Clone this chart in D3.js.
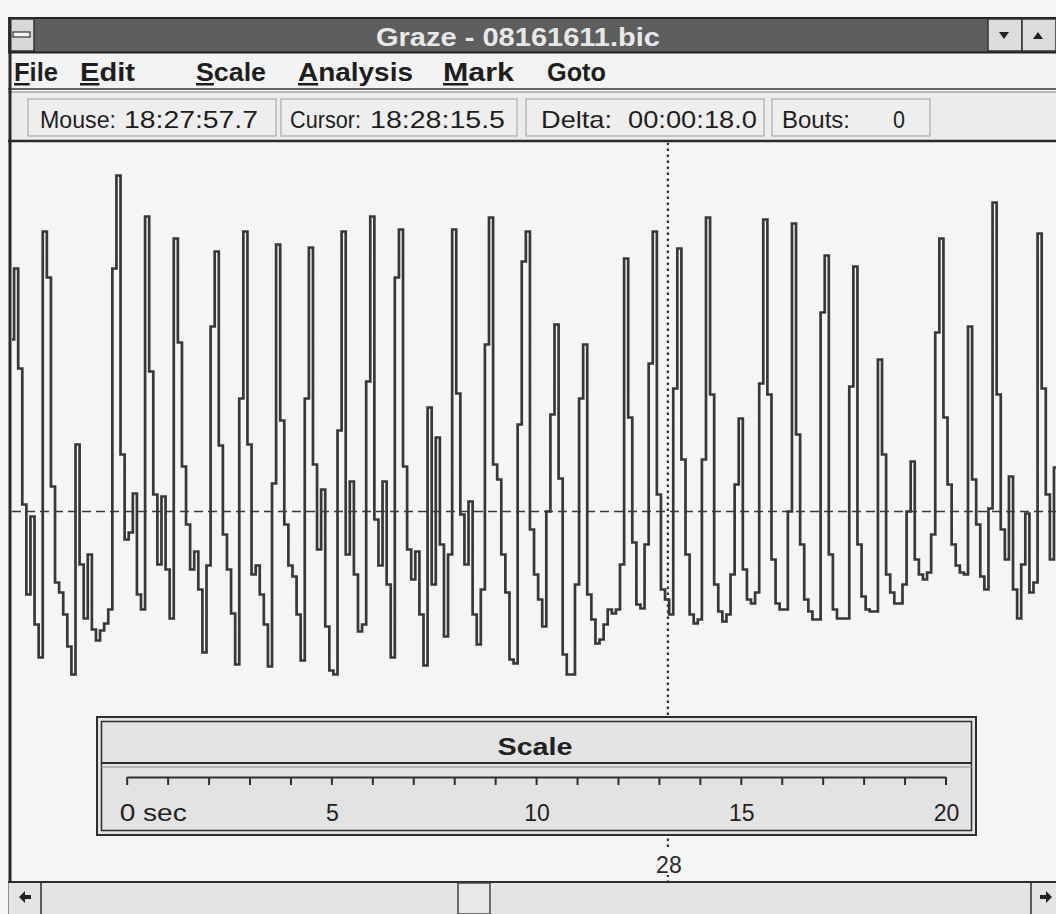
<!DOCTYPE html>
<html><head><meta charset="utf-8">
<script src="https://cdn.jsdelivr.net/npm/d3@7"></script>
<style>
body{margin:0;background:#f4f4f4;overflow:hidden}
svg{display:block}
text{font-family:"Liberation Sans",Arial,sans-serif}
</style></head>
<body><svg id="c" width="1056" height="914"></svg>
<script>
// ---------------- data ----------------
const title = "Graze - 08161611.bic";
const menuItems = ["File", "Edit", "Scale", "Analysis", "Mark", "Goto"];
const statusLabels = ["Mouse:", "Cursor:", "Delta:", "Bouts:"];
const statusValues = ["18:27:57.7", "18:28:15.5", "00:00:18.0", "0"];
const sampleInterval = 0.1;   // seconds per sample (10 Hz)
const threshold = 3;          // dashed reference level
const cursorTime = 16.07;     // s from left edge
const cursorLabel = "28";
const scaleTicks = [0,1,2,3,4,5,6,7,8,9,10,11,12,13,14,15,16,17,18,19,20];
const scaleLabelValues = [0, 5, 10, 15, 20];
const scaleLabelTexts = ["0 sec", "5", "10", "15", "20"];
// jaw-movement signal, one value per 0.1 s
const signal = [
 175,246,146,10,-80,-2,-110,-143,283,237,
 28,-68,-78,-100,-132,-160,70,-50,-104,-40,
 -115,-126,-116,-109,-95,246,339,60,-25,-18,
 21,-80,-95,298,143,20,-50,18,-55,-104,
 276,172,48,-10,-55,-37,-75,-138,-51,188,
 263,69,-20,-55,-99,-150,116,283,70,-60,
 -51,-80,-110,-152,31,270,94,-10,-51,-62,
 -100,-146,116,267,50,-35,25,-112,-156,-160,
 84,283,-40,33,-60,-117,-110,133,298,-5,
 -51,33,-70,-143,237,285,48,-35,-65,-37,
 -100,-151,107,-70,77,-30,-122,-40,285,121,
 0,-50,13,-100,-130,-75,170,297,50,35,
 -40,-78,-145,-149,90,253,283,-15,-60,-85,
 -112,3,100,190,36,-140,-160,-160,-70,116,
 170,-80,-105,-129,-125,-110,-95,-99,-95,-50,
 256,97,-28,-90,-94,-30,151,283,20,-75,
 -85,-100,126,266,55,-40,-100,-109,-105,55,
 297,120,-70,-97,-107,-100,-60,30,96,-55,
 -85,-89,-78,131,295,120,-45,-89,-95,-95,
 3,291,80,-30,-85,-97,-105,-105,202,259,
 -40,-95,-104,-104,-104,128,248,-30,-82,-95,
 -97,-97,155,60,-60,-78,-89,-89,-70,3,
 53,-45,-60,-65,-58,-20,182,276,97,30,
 -30,-51,-58,-60,188,35,-10,-62,-75,6,
 312,120,-15,-45,38,-75,-104,-50,1,-78,
 -68,281,126,20,-45,47,-18
];

// ---------------- layout ----------------
const W = 1056, H = 914;
const svg = d3.select("#c");
const ink = "#383838";
const chrome = "#e3e3e3";

svg.append("rect").attr("width", W).attr("height", H).attr("fill", "#f5f5f5");

// ---- title bar ----
svg.append("rect").attr("x", 8).attr("y", 18).attr("width", W - 8).attr("height", 34).attr("fill", "#5e5e5e");
svg.append("line").attr("x1", 8).attr("x2", W).attr("y1", 18).attr("y2", 18).attr("stroke", "#222").attr("stroke-width", 2);
// system box
svg.append("rect").attr("x", 9).attr("y", 19).attr("width", 25).attr("height", 32).attr("fill", "#d8d8d8").attr("stroke", "#333").attr("stroke-width", 1.5);
svg.append("rect").attr("x", 13).attr("y", 32).attr("width", 17).attr("height", 5).attr("fill", "#f4f4f4").attr("stroke", "#333").attr("stroke-width", 1.2);
svg.append("text").attr("x", 376).attr("y", 46).attr("font-size", 25).attr("font-weight", "bold")
  .attr("fill", "#e8e8e8").attr("textLength", 284).attr("lengthAdjust", "spacingAndGlyphs").text(title);
// min / max buttons
[[988, "down"], [1022, "up"]].forEach(([bx, dir]) => {
  svg.append("rect").attr("x", bx).attr("y", 19).attr("width", 34).attr("height", 32).attr("fill", "#dcdcdc").attr("stroke", "#333").attr("stroke-width", 1.5);
  const cx = bx + 16, cy = 35;
  const pts = dir === "down" ? [[cx - 5, cy - 3], [cx + 5, cy - 3], [cx, cy + 4]] : [[cx - 5, cy + 4], [cx + 5, cy + 4], [cx, cy - 3]];
  svg.append("path").attr("d", d3.line()(pts) + "Z").attr("fill", "#222");
});
svg.append("line").attr("x1", 8).attr("x2", W).attr("y1", 52.5).attr("y2", 52.5).attr("stroke", "#222").attr("stroke-width", 2);

// ---- menu bar ----
svg.append("rect").attr("x", 9).attr("y", 54).attr("width", W - 9).attr("height", 35).attr("fill", "#f3f3f3");
const menuX = [14, 80, 196, 298, 443, 547];
const menuW = [44, 55, 70, 115, 71, 59];
menuItems.forEach((m, i) => {
  const t = svg.append("text").attr("x", menuX[i]).attr("y", 81).attr("font-size", 25).attr("font-weight", "bold")
    .attr("fill", "#1e1e1e").attr("textLength", menuW[i]).attr("lengthAdjust", "spacingAndGlyphs");
  if (i < 5) {
    t.append("tspan").style("text-decoration", "underline").text(m[0]);
    t.append("tspan").text(m.slice(1));
  } else t.text(m);
});
svg.append("line").attr("x1", 8).attr("x2", W).attr("y1", 89).attr("y2", 89).attr("stroke", "#333").attr("stroke-width", 1.5);
svg.append("line").attr("x1", 8).attr("x2", W).attr("y1", 92).attr("y2", 92).attr("stroke", "#777").attr("stroke-width", 1);

// ---- status bar ----
svg.append("rect").attr("x", 9).attr("y", 93).attr("width", W - 9).attr("height", 47).attr("fill", "#ececec");
const boxX = [28, 281, 526, 772], boxW = [248, 236, 238, 158];
const labX = [40, 290, 541, 782], labW = [76, 71, 71, 68];
const valX = [124, 370, 628, 893], valW = [134, 135, 129, 12];
statusLabels.forEach((s, i) => {
  svg.append("rect").attr("x", boxX[i]).attr("y", 99).attr("width", boxW[i]).attr("height", 37)
    .attr("fill", "#eeeeee").attr("stroke", "#b8b8b8").attr("stroke-width", 1.5);
  svg.append("text").attr("x", labX[i]).attr("y", 128).attr("font-size", 24).attr("fill", "#1e1e1e")
    .attr("textLength", labW[i]).attr("lengthAdjust", "spacingAndGlyphs").text(s);
  svg.append("text").attr("x", valX[i]).attr("y", 128).attr("font-size", 24).attr("fill", "#1e1e1e")
    .attr("textLength", valW[i]).attr("lengthAdjust", "spacingAndGlyphs").text(statusValues[i]);
});
svg.append("line").attr("x1", 8).attr("x2", W).attr("y1", 141).attr("y2", 141).attr("stroke", "#2a2a2a").attr("stroke-width", 2.5);

// ---- plot ----
const plotTop = 142.5, plotBottom = 881, plotLeft = 12, plotRight = W;
const x = d3.scaleLinear().domain([0, 20]).range([10, 10 + 818.8]);
const y = d3.scaleLinear().domain([-200, 380]).range([714.5, 134.5]);

svg.append("clipPath").attr("id", "clip").append("rect")
  .attr("x", plotLeft).attr("y", plotTop).attr("width", plotRight - plotLeft).attr("height", plotBottom - plotTop);
const g = svg.append("g").attr("clip-path", "url(#clip)");

g.append("line").attr("x1", plotLeft).attr("x2", plotRight).attr("y1", y(threshold)).attr("y2", y(threshold))
  .attr("stroke", "#3a3a3a").attr("stroke-width", 1.7).attr("stroke-dasharray", "9,5");
const cx = x(cursorTime);
g.append("line").attr("x1", cx).attr("x2", cx).attr("y1", plotTop).attr("y2", plotBottom)
  .attr("stroke", "#333").attr("stroke-width", 2.3).attr("stroke-dasharray", "2.5,3.5");

const line = d3.line().x((d, i) => x(i * sampleInterval)).y(d => y(d)).curve(d3.curveStepAfter);
g.append("path").datum(signal).attr("d", line).attr("fill", "none")
  .attr("stroke", ink).attr("stroke-width", 2.7).attr("stroke-linejoin", "miter");

// cursor label
g.append("rect").attr("x", cx - 15).attr("y", 850).attr("width", 30).attr("height", 25).attr("fill", "#f5f5f5");
g.append("text").attr("x", cx + 1).attr("y", 873).attr("text-anchor", "middle").attr("font-size", 23)
  .attr("fill", "#2a2a2a").text(cursorLabel);

// left window border
svg.append("line").attr("x1", 10).attr("x2", 10).attr("y1", 18).attr("y2", H).attr("stroke", "#2a2a2a").attr("stroke-width", 3);

// ---- scale window ----
const sb = svg.append("g");
sb.append("rect").attr("x", 97).attr("y", 717).attr("width", 879).attr("height", 118).attr("fill", chrome)
  .attr("stroke", "#2e2e2e").attr("stroke-width", 2);
sb.append("rect").attr("x", 101.5).attr("y", 721.5).attr("width", 870).attr("height", 109).attr("fill", "none")
  .attr("stroke", "#2e2e2e").attr("stroke-width", 1.5);
sb.append("line").attr("x1", 101).attr("x2", 972).attr("y1", 763).attr("y2", 763).attr("stroke", "#2e2e2e").attr("stroke-width", 2);
sb.append("line").attr("x1", 101).attr("x2", 972).attr("y1", 767).attr("y2", 767).attr("stroke", "#8a8a8a").attr("stroke-width", 1);
sb.append("text").attr("x", 535).attr("y", 755).attr("text-anchor", "middle").attr("font-size", 24)
  .attr("font-weight", "bold").attr("fill", "#222").attr("textLength", 75).attr("lengthAdjust", "spacingAndGlyphs").text("Scale");

const ruler = d3.scaleLinear().domain([0, 20]).range([126.7, 945.5]);
const axis = d3.axisBottom(ruler).tickValues(scaleTicks).tickSize(8).tickSizeOuter(0).tickFormat("");
const ag = sb.append("g").attr("transform", "translate(0,777)").call(axis);
ag.select(".domain").attr("stroke", "#2e2e2e").attr("stroke-width", 2);
ag.selectAll(".tick line").attr("stroke", "#2e2e2e").attr("stroke-width", 2);
scaleLabelValues.forEach((v, i) => {
  const t = sb.append("text").attr("y", 821).attr("font-size", 23).attr("fill", "#222").text(scaleLabelTexts[i]);
  if (i === 0) t.attr("x", ruler(v) - 7).attr("text-anchor", "start").attr("textLength", 67).attr("lengthAdjust", "spacingAndGlyphs");
  else t.attr("x", ruler(v) + 1).attr("text-anchor", "middle");
});

// ---- horizontal scrollbar ----
svg.append("rect").attr("x", 9).attr("y", 882).attr("width", W - 9).attr("height", 32).attr("fill", "#e4e4e4");
svg.append("line").attr("x1", 8).attr("x2", W).attr("y1", 882).attr("y2", 882).attr("stroke", "#2e2e2e").attr("stroke-width", 2);
svg.append("line").attr("x1", 41).attr("x2", 41).attr("y1", 882).attr("y2", H).attr("stroke", "#2e2e2e").attr("stroke-width", 1.5);
svg.append("line").attr("x1", 1031).attr("x2", 1031).attr("y1", 882).attr("y2", H).attr("stroke", "#2e2e2e").attr("stroke-width", 1.5);
svg.append("rect").attr("x", 458).attr("y", 883).attr("width", 32).attr("height", 31).attr("fill", "#e8e8e8")
  .attr("stroke", "#444").attr("stroke-width", 1.5);
svg.append("path").attr("d", "M19,897 l6,-6 v4 h6 v4 h-6 v4 z").attr("fill", "#222");
svg.append("path").attr("d", "M1052,897 l-6,-6 v4 h-6 v4 h6 v4 z").attr("fill", "#222");
</script></body></html>
